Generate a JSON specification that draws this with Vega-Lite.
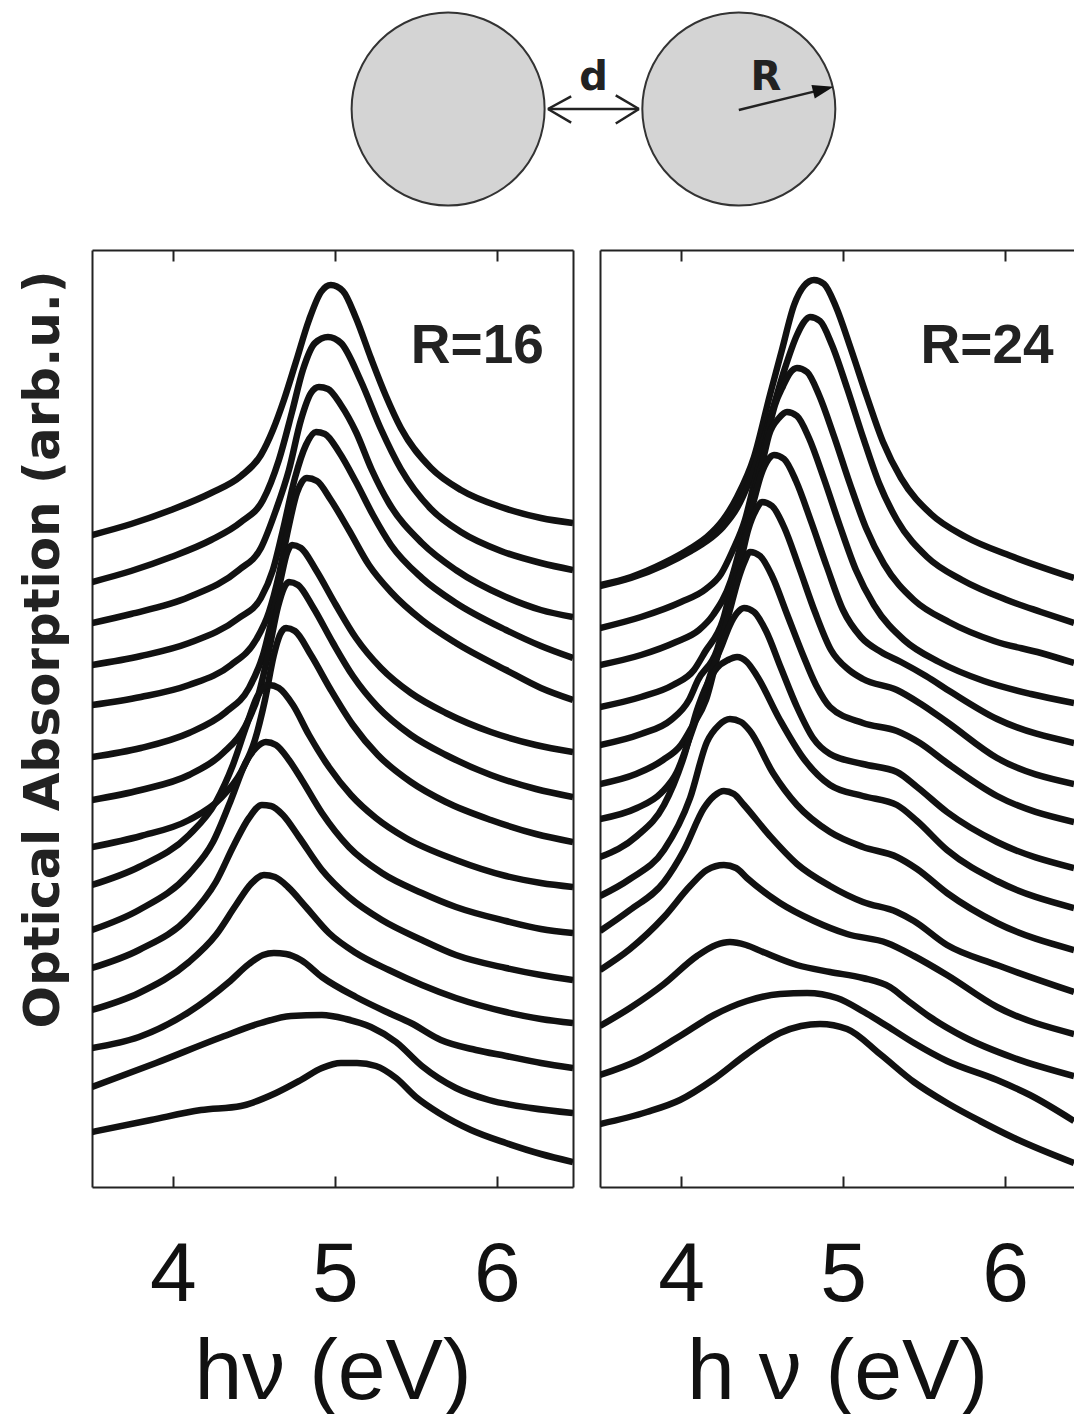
{
"$schema": "https://vega.github.io/schema/vega-lite/v6.json",
"background": "white",
"padding": {"left": 17, "top": 0, "right": 0, "bottom": 0},
"config": {"view": {"stroke": null}, "axis": {"grid": false}},
"datasets": {
"circles": [{"x": -1.5, "y": 0}, {"x": 1.5, "y": 0}],
"segs": [
{"x": -0.47, "y": 0, "x2": 0.47, "y2": 0},
{"x": -0.47, "y": 0, "x2": -0.23, "y2": 0.13},
{"x": -0.47, "y": 0, "x2": -0.23, "y2": -0.14},
{"x": 0.47, "y": 0, "x2": 0.23, "y2": 0.14},
{"x": 0.47, "y": 0, "x2": 0.23, "y2": -0.15},
{"x": 1.5, "y": -0.01, "x2": 2.38, "y2": 0.205}
],
"heads": [{"x": 2.477, "y": 0.23}],
"dtext": [{"x": 0, "y": 0.196, "t": "d"}, {"x": 1.78, "y": 0.196, "t": "R"}],
"labels": [{"p": 1, "x": 6.29, "y": 82.4, "t": "R=16"}, {"p": 2, "x": 6.30, "y": 82.4, "t": "R=24"}],
"curves": [
{"p":1,"c":1,"x":3.5,"y":65.2},{"p":1,"c":1,"x":3.741,"y":66.3},{"p":1,"c":1,"x":3.988,"y":67.7},{"p":1,"c":1,"x":4.235,"y":69.4},{"p":1,"c":1,"x":4.42,"y":71.1},{"p":1,"c":1,"x":4.543,"y":73.2},{"p":1,"c":1,"x":4.617,"y":75.7},{"p":1,"c":1,"x":4.685,"y":78.7},{"p":1,"c":1,"x":4.759,"y":82.5},{"p":1,"c":1,"x":4.84,"y":86.7},{"p":1,"c":1,"x":4.914,"y":89.5},{"p":1,"c":1,"x":4.975,"y":90.2},{"p":1,"c":1,"x":5.049,"y":89.6},{"p":1,"c":1,"x":5.13,"y":86.9},{"p":1,"c":1,"x":5.222,"y":82.9},{"p":1,"c":1,"x":5.315,"y":79.1},{"p":1,"c":1,"x":5.407,"y":75.9},{"p":1,"c":1,"x":5.593,"y":71.9},{"p":1,"c":1,"x":5.778,"y":69.7},{"p":1,"c":1,"x":6.025,"y":68.0},{"p":1,"c":1,"x":6.272,"y":66.9},{"p":1,"c":1,"x":6.47,"y":66.4},
{"p":1,"c":2,"x":3.5,"y":60.5},{"p":1,"c":2,"x":3.741,"y":61.6},{"p":1,"c":2,"x":3.988,"y":63.0},{"p":1,"c":2,"x":4.235,"y":64.7},{"p":1,"c":2,"x":4.42,"y":66.5},{"p":1,"c":2,"x":4.556,"y":68.7},{"p":1,"c":2,"x":4.654,"y":72.7},{"p":1,"c":2,"x":4.735,"y":77.5},{"p":1,"c":2,"x":4.802,"y":81.7},{"p":1,"c":2,"x":4.877,"y":84.4},{"p":1,"c":2,"x":4.957,"y":85.0},{"p":1,"c":2,"x":5.037,"y":84.4},{"p":1,"c":2,"x":5.16,"y":80.6},{"p":1,"c":2,"x":5.284,"y":75.8},{"p":1,"c":2,"x":5.407,"y":71.8},{"p":1,"c":2,"x":5.593,"y":67.8},{"p":1,"c":2,"x":5.778,"y":65.5},{"p":1,"c":2,"x":6.025,"y":63.6},{"p":1,"c":2,"x":6.272,"y":62.4},{"p":1,"c":2,"x":6.47,"y":61.7},
{"p":1,"c":3,"x":3.5,"y":56.4},{"p":1,"c":3,"x":3.741,"y":57.3},{"p":1,"c":3,"x":4.099,"y":59.0},{"p":1,"c":3,"x":4.407,"y":61.7},{"p":1,"c":3,"x":4.543,"y":63.9},{"p":1,"c":3,"x":4.636,"y":67.7},{"p":1,"c":3,"x":4.716,"y":71.7},{"p":1,"c":3,"x":4.79,"y":76.7},{"p":1,"c":3,"x":4.852,"y":79.4},{"p":1,"c":3,"x":4.901,"y":80.0},{"p":1,"c":3,"x":4.957,"y":79.8},{"p":1,"c":3,"x":5.037,"y":78.2},{"p":1,"c":3,"x":5.13,"y":75.5},{"p":1,"c":3,"x":5.228,"y":71.7},{"p":1,"c":3,"x":5.333,"y":68.4},{"p":1,"c":3,"x":5.537,"y":64.4},{"p":1,"c":3,"x":5.747,"y":61.7},{"p":1,"c":3,"x":6.056,"y":59.0},{"p":1,"c":3,"x":6.272,"y":57.7},{"p":1,"c":3,"x":6.47,"y":57.0},
{"p":1,"c":4,"x":3.5,"y":52.2},{"p":1,"c":4,"x":3.802,"y":53.1},{"p":1,"c":4,"x":4.099,"y":54.4},{"p":1,"c":4,"x":4.407,"y":56.9},{"p":1,"c":4,"x":4.543,"y":58.9},{"p":1,"c":4,"x":4.617,"y":61.7},{"p":1,"c":4,"x":4.679,"y":65.7},{"p":1,"c":4,"x":4.753,"y":70.9},{"p":1,"c":4,"x":4.821,"y":74.2},{"p":1,"c":4,"x":4.883,"y":75.5},{"p":1,"c":4,"x":4.938,"y":75.3},{"p":1,"c":4,"x":5.025,"y":73.5},{"p":1,"c":4,"x":5.13,"y":70.5},{"p":1,"c":4,"x":5.235,"y":67.2},{"p":1,"c":4,"x":5.346,"y":64.2},{"p":1,"c":4,"x":5.537,"y":60.9},{"p":1,"c":4,"x":5.747,"y":58.4},{"p":1,"c":4,"x":6.056,"y":55.7},{"p":1,"c":4,"x":6.272,"y":54.1},{"p":1,"c":4,"x":6.47,"y":52.9},
{"p":1,"c":5,"x":3.5,"y":48.2},{"p":1,"c":5,"x":3.802,"y":49.0},{"p":1,"c":5,"x":4.099,"y":50.2},{"p":1,"c":5,"x":4.358,"y":52.2},{"p":1,"c":5,"x":4.512,"y":54.7},{"p":1,"c":5,"x":4.593,"y":57.5},{"p":1,"c":5,"x":4.654,"y":61.2},{"p":1,"c":5,"x":4.71,"y":65.7},{"p":1,"c":5,"x":4.765,"y":69.4},{"p":1,"c":5,"x":4.827,"y":70.9},{"p":1,"c":5,"x":4.889,"y":70.6},{"p":1,"c":5,"x":4.975,"y":68.7},{"p":1,"c":5,"x":5.086,"y":65.7},{"p":1,"c":5,"x":5.21,"y":62.2},{"p":1,"c":5,"x":5.346,"y":59.5},{"p":1,"c":5,"x":5.537,"y":56.7},{"p":1,"c":5,"x":5.747,"y":54.4},{"p":1,"c":5,"x":6.056,"y":51.7},{"p":1,"c":5,"x":6.272,"y":49.9},{"p":1,"c":5,"x":6.47,"y":48.7},
{"p":1,"c":6,"x":3.5,"y":43.0},{"p":1,"c":6,"x":3.802,"y":43.9},{"p":1,"c":6,"x":4.099,"y":45.4},{"p":1,"c":6,"x":4.327,"y":47.5},{"p":1,"c":6,"x":4.469,"y":49.9},{"p":1,"c":6,"x":4.556,"y":53.2},{"p":1,"c":6,"x":4.617,"y":57.2},{"p":1,"c":6,"x":4.667,"y":60.9},{"p":1,"c":6,"x":4.704,"y":63.4},{"p":1,"c":6,"x":4.735,"y":64.2},{"p":1,"c":6,"x":4.79,"y":63.9},{"p":1,"c":6,"x":4.883,"y":61.7},{"p":1,"c":6,"x":5.006,"y":58.2},{"p":1,"c":6,"x":5.13,"y":54.9},{"p":1,"c":6,"x":5.284,"y":51.9},{"p":1,"c":6,"x":5.469,"y":49.4},{"p":1,"c":6,"x":5.685,"y":47.4},{"p":1,"c":6,"x":5.963,"y":45.5},{"p":1,"c":6,"x":6.241,"y":44.2},{"p":1,"c":6,"x":6.47,"y":43.5},
{"p":1,"c":7,"x":3.5,"y":38.7},{"p":1,"c":7,"x":3.802,"y":39.7},{"p":1,"c":7,"x":4.099,"y":41.2},{"p":1,"c":7,"x":4.309,"y":43.4},{"p":1,"c":7,"x":4.444,"y":46.0},{"p":1,"c":7,"x":4.531,"y":49.4},{"p":1,"c":7,"x":4.593,"y":53.7},{"p":1,"c":7,"x":4.648,"y":58.0},{"p":1,"c":7,"x":4.685,"y":59.9},{"p":1,"c":7,"x":4.716,"y":60.5},{"p":1,"c":7,"x":4.772,"y":60.2},{"p":1,"c":7,"x":4.864,"y":58.0},{"p":1,"c":7,"x":4.988,"y":54.4},{"p":1,"c":7,"x":5.111,"y":51.1},{"p":1,"c":7,"x":5.265,"y":48.0},{"p":1,"c":7,"x":5.469,"y":45.2},{"p":1,"c":7,"x":5.685,"y":43.2},{"p":1,"c":7,"x":5.963,"y":41.2},{"p":1,"c":7,"x":6.241,"y":39.8},{"p":1,"c":7,"x":6.47,"y":39.0},
{"p":1,"c":8,"x":3.5,"y":34.0},{"p":1,"c":8,"x":3.802,"y":35.1},{"p":1,"c":8,"x":4.099,"y":36.7},{"p":1,"c":8,"x":4.296,"y":38.9},{"p":1,"c":8,"x":4.42,"y":41.5},{"p":1,"c":8,"x":4.506,"y":44.7},{"p":1,"c":8,"x":4.568,"y":48.7},{"p":1,"c":8,"x":4.623,"y":53.2},{"p":1,"c":8,"x":4.66,"y":55.2},{"p":1,"c":8,"x":4.698,"y":55.9},{"p":1,"c":8,"x":4.753,"y":55.6},{"p":1,"c":8,"x":4.852,"y":53.2},{"p":1,"c":8,"x":4.975,"y":49.7},{"p":1,"c":8,"x":5.111,"y":46.2},{"p":1,"c":8,"x":5.265,"y":43.2},{"p":1,"c":8,"x":5.469,"y":40.5},{"p":1,"c":8,"x":5.685,"y":38.5},{"p":1,"c":8,"x":5.963,"y":36.7},{"p":1,"c":8,"x":6.241,"y":35.3},{"p":1,"c":8,"x":6.47,"y":34.5},
{"p":1,"c":9,"x":3.5,"y":30.2},{"p":1,"c":9,"x":3.79,"y":32.0},{"p":1,"c":9,"x":4.099,"y":35.2},{"p":1,"c":9,"x":4.265,"y":38.5},{"p":1,"c":9,"x":4.37,"y":42.2},{"p":1,"c":9,"x":4.451,"y":46.0},{"p":1,"c":9,"x":4.519,"y":49.0},{"p":1,"c":9,"x":4.593,"y":50.2},{"p":1,"c":9,"x":4.654,"y":49.9},{"p":1,"c":9,"x":4.741,"y":48.2},{"p":1,"c":9,"x":4.84,"y":45.2},{"p":1,"c":9,"x":4.963,"y":42.0},{"p":1,"c":9,"x":5.099,"y":39.2},{"p":1,"c":9,"x":5.253,"y":36.9},{"p":1,"c":9,"x":5.438,"y":34.9},{"p":1,"c":9,"x":5.747,"y":32.7},{"p":1,"c":9,"x":6.056,"y":31.1},{"p":1,"c":9,"x":6.272,"y":30.4},{"p":1,"c":9,"x":6.47,"y":30.0},
{"p":1,"c":10,"x":3.5,"y":25.7},{"p":1,"c":10,"x":3.79,"y":27.7},{"p":1,"c":10,"x":4.099,"y":31.3},{"p":1,"c":10,"x":4.247,"y":34.5},{"p":1,"c":10,"x":4.358,"y":38.7},{"p":1,"c":10,"x":4.451,"y":42.5},{"p":1,"c":10,"x":4.512,"y":43.9},{"p":1,"c":10,"x":4.574,"y":44.5},{"p":1,"c":10,"x":4.636,"y":44.2},{"p":1,"c":10,"x":4.716,"y":42.7},{"p":1,"c":10,"x":4.796,"y":40.7},{"p":1,"c":10,"x":4.92,"y":37.4},{"p":1,"c":10,"x":5.086,"y":34.0},{"p":1,"c":10,"x":5.29,"y":31.4},{"p":1,"c":10,"x":5.537,"y":29.4},{"p":1,"c":10,"x":5.747,"y":28.0},{"p":1,"c":10,"x":6.056,"y":26.6},{"p":1,"c":10,"x":6.272,"y":25.8},{"p":1,"c":10,"x":6.47,"y":25.4},
{"p":1,"c":11,"x":3.5,"y":21.9},{"p":1,"c":11,"x":3.79,"y":23.7},{"p":1,"c":11,"x":4.099,"y":27.0},{"p":1,"c":11,"x":4.265,"y":30.5},{"p":1,"c":11,"x":4.377,"y":34.2},{"p":1,"c":11,"x":4.469,"y":36.9},{"p":1,"c":11,"x":4.549,"y":38.2},{"p":1,"c":11,"x":4.605,"y":38.1},{"p":1,"c":11,"x":4.679,"y":37.2},{"p":1,"c":11,"x":4.778,"y":35.0},{"p":1,"c":11,"x":4.92,"y":31.7},{"p":1,"c":11,"x":5.086,"y":29.0},{"p":1,"c":11,"x":5.29,"y":26.7},{"p":1,"c":11,"x":5.537,"y":24.7},{"p":1,"c":11,"x":5.747,"y":23.2},{"p":1,"c":11,"x":6.056,"y":21.9},{"p":1,"c":11,"x":6.272,"y":21.2},{"p":1,"c":11,"x":6.47,"y":20.7},
{"p":1,"c":12,"x":3.5,"y":17.7},{"p":1,"c":12,"x":3.79,"y":19.4},{"p":1,"c":12,"x":4.099,"y":22.5},{"p":1,"c":12,"x":4.265,"y":25.2},{"p":1,"c":12,"x":4.389,"y":28.2},{"p":1,"c":12,"x":4.481,"y":30.3},{"p":1,"c":12,"x":4.562,"y":31.2},{"p":1,"c":12,"x":4.63,"y":31.0},{"p":1,"c":12,"x":4.71,"y":30.0},{"p":1,"c":12,"x":4.821,"y":28.0},{"p":1,"c":12,"x":4.963,"y":25.4},{"p":1,"c":12,"x":5.13,"y":23.4},{"p":1,"c":12,"x":5.333,"y":21.7},{"p":1,"c":12,"x":5.537,"y":20.2},{"p":1,"c":12,"x":5.747,"y":18.9},{"p":1,"c":12,"x":6.056,"y":17.5},{"p":1,"c":12,"x":6.272,"y":16.8},{"p":1,"c":12,"x":6.47,"y":16.4},
{"p":1,"c":13,"x":3.5,"y":13.9},{"p":1,"c":13,"x":3.79,"y":15.0},{"p":1,"c":13,"x":4.099,"y":17.5},{"p":1,"c":13,"x":4.346,"y":20.5},{"p":1,"c":13,"x":4.469,"y":22.3},{"p":1,"c":13,"x":4.556,"y":23.2},{"p":1,"c":13,"x":4.623,"y":23.4},{"p":1,"c":13,"x":4.698,"y":23.3},{"p":1,"c":13,"x":4.79,"y":22.7},{"p":1,"c":13,"x":4.92,"y":21.0},{"p":1,"c":13,"x":5.13,"y":19.0},{"p":1,"c":13,"x":5.333,"y":17.4},{"p":1,"c":13,"x":5.469,"y":16.4},{"p":1,"c":13,"x":5.654,"y":14.7},{"p":1,"c":13,"x":5.87,"y":13.7},{"p":1,"c":13,"x":6.056,"y":13.1},{"p":1,"c":13,"x":6.272,"y":12.4},{"p":1,"c":13,"x":6.47,"y":11.9},
{"p":1,"c":14,"x":3.5,"y":10.0},{"p":1,"c":14,"x":3.895,"y":12.4},{"p":1,"c":14,"x":4.302,"y":15.0},{"p":1,"c":14,"x":4.543,"y":16.4},{"p":1,"c":14,"x":4.728,"y":17.1},{"p":1,"c":14,"x":4.92,"y":17.2},{"p":1,"c":14,"x":5.068,"y":16.8},{"p":1,"c":14,"x":5.222,"y":16.0},{"p":1,"c":14,"x":5.377,"y":14.5},{"p":1,"c":14,"x":5.537,"y":12.1},{"p":1,"c":14,"x":5.747,"y":9.9},{"p":1,"c":14,"x":5.951,"y":8.7},{"p":1,"c":14,"x":6.21,"y":7.9},{"p":1,"c":14,"x":6.47,"y":7.4},
{"p":1,"c":15,"x":3.5,"y":5.5},{"p":1,"c":15,"x":3.864,"y":6.7},{"p":1,"c":15,"x":4.173,"y":7.7},{"p":1,"c":15,"x":4.42,"y":8.1},{"p":1,"c":15,"x":4.636,"y":9.4},{"p":1,"c":15,"x":4.79,"y":10.7},{"p":1,"c":15,"x":4.92,"y":11.9},{"p":1,"c":15,"x":5.037,"y":12.4},{"p":1,"c":15,"x":5.136,"y":12.4},{"p":1,"c":15,"x":5.253,"y":12.1},{"p":1,"c":15,"x":5.377,"y":10.9},{"p":1,"c":15,"x":5.5,"y":9.0},{"p":1,"c":15,"x":5.642,"y":7.4},{"p":1,"c":15,"x":5.84,"y":5.7},{"p":1,"c":15,"x":6.056,"y":4.4},{"p":1,"c":15,"x":6.272,"y":3.3},{"p":1,"c":15,"x":6.47,"y":2.5},
{"p":2,"c":1,"x":3.5,"y":60.2},{"p":2,"c":1,"x":3.691,"y":61.0},{"p":2,"c":1,"x":3.895,"y":62.4},{"p":2,"c":1,"x":4.062,"y":63.9},{"p":2,"c":1,"x":4.16,"y":65.0},{"p":2,"c":1,"x":4.259,"y":66.7},{"p":2,"c":1,"x":4.346,"y":69.0},{"p":2,"c":1,"x":4.451,"y":73.0},{"p":2,"c":1,"x":4.549,"y":79.2},{"p":2,"c":1,"x":4.623,"y":83.7},{"p":2,"c":1,"x":4.698,"y":88.2},{"p":2,"c":1,"x":4.759,"y":90.1},{"p":2,"c":1,"x":4.821,"y":90.7},{"p":2,"c":1,"x":4.883,"y":90.3},{"p":2,"c":1,"x":4.957,"y":88.0},{"p":2,"c":1,"x":5.049,"y":83.8},{"p":2,"c":1,"x":5.148,"y":79.0},{"p":2,"c":1,"x":5.247,"y":74.5},{"p":2,"c":1,"x":5.358,"y":70.9},{"p":2,"c":1,"x":5.543,"y":67.3},{"p":2,"c":1,"x":5.759,"y":65.0},{"p":2,"c":1,"x":6.037,"y":63.1},{"p":2,"c":1,"x":6.426,"y":60.9},
{"p":2,"c":2,"x":3.5,"y":60.1},{"p":2,"c":2,"x":3.691,"y":60.9},{"p":2,"c":2,"x":3.895,"y":62.2},{"p":2,"c":2,"x":4.062,"y":63.6},{"p":2,"c":2,"x":4.16,"y":64.6},{"p":2,"c":2,"x":4.259,"y":66.0},{"p":2,"c":2,"x":4.346,"y":67.9},{"p":2,"c":2,"x":4.42,"y":70.5},{"p":2,"c":2,"x":4.494,"y":73.9},{"p":2,"c":2,"x":4.568,"y":77.9},{"p":2,"c":2,"x":4.642,"y":81.9},{"p":2,"c":2,"x":4.716,"y":85.2},{"p":2,"c":2,"x":4.759,"y":86.5},{"p":2,"c":2,"x":4.796,"y":87.0},{"p":2,"c":2,"x":4.858,"y":86.6},{"p":2,"c":2,"x":4.932,"y":84.2},{"p":2,"c":2,"x":5.025,"y":79.9},{"p":2,"c":2,"x":5.123,"y":75.0},{"p":2,"c":2,"x":5.222,"y":70.4},{"p":2,"c":2,"x":5.333,"y":66.7},{"p":2,"c":2,"x":5.519,"y":63.0},{"p":2,"c":2,"x":5.735,"y":60.7},{"p":2,"c":2,"x":6.012,"y":58.7},{"p":2,"c":2,"x":6.222,"y":57.5},{"p":2,"c":2,"x":6.426,"y":56.4},
{"p":2,"c":3,"x":3.5,"y":55.9},{"p":2,"c":3,"x":3.753,"y":57.0},{"p":2,"c":3,"x":4.0,"y":58.5},{"p":2,"c":3,"x":4.154,"y":59.8},{"p":2,"c":3,"x":4.247,"y":61.3},{"p":2,"c":3,"x":4.315,"y":63.5},{"p":2,"c":3,"x":4.395,"y":66.7},{"p":2,"c":3,"x":4.457,"y":70.7},{"p":2,"c":3,"x":4.525,"y":74.7},{"p":2,"c":3,"x":4.58,"y":78.2},{"p":2,"c":3,"x":4.63,"y":80.1},{"p":2,"c":3,"x":4.673,"y":81.4},{"p":2,"c":3,"x":4.716,"y":81.9},{"p":2,"c":3,"x":4.778,"y":81.5},{"p":2,"c":3,"x":4.852,"y":79.2},{"p":2,"c":3,"x":4.944,"y":75.1},{"p":2,"c":3,"x":5.043,"y":70.3},{"p":2,"c":3,"x":5.142,"y":65.9},{"p":2,"c":3,"x":5.253,"y":62.3},{"p":2,"c":3,"x":5.438,"y":58.7},{"p":2,"c":3,"x":5.654,"y":56.5},{"p":2,"c":3,"x":5.932,"y":54.6},{"p":2,"c":3,"x":6.222,"y":53.4},{"p":2,"c":3,"x":6.426,"y":52.4},
{"p":2,"c":4,"x":3.5,"y":52.2},{"p":2,"c":4,"x":3.753,"y":53.2},{"p":2,"c":4,"x":3.969,"y":54.5},{"p":2,"c":4,"x":4.111,"y":55.7},{"p":2,"c":4,"x":4.198,"y":57.2},{"p":2,"c":4,"x":4.309,"y":60.7},{"p":2,"c":4,"x":4.377,"y":64.7},{"p":2,"c":4,"x":4.438,"y":68.7},{"p":2,"c":4,"x":4.506,"y":72.7},{"p":2,"c":4,"x":4.543,"y":75.2},{"p":2,"c":4,"x":4.605,"y":76.9},{"p":2,"c":4,"x":4.654,"y":77.5},{"p":2,"c":4,"x":4.716,"y":77.1},{"p":2,"c":4,"x":4.79,"y":74.9},{"p":2,"c":4,"x":4.883,"y":70.8},{"p":2,"c":4,"x":4.981,"y":66.1},{"p":2,"c":4,"x":5.08,"y":61.7},{"p":2,"c":4,"x":5.191,"y":58.2},{"p":2,"c":4,"x":5.377,"y":54.7},{"p":2,"c":4,"x":5.593,"y":52.5},{"p":2,"c":4,"x":5.87,"y":50.6},{"p":2,"c":4,"x":6.16,"y":49.3},{"p":2,"c":4,"x":6.426,"y":48.4},
{"p":2,"c":5,"x":3.5,"y":48.0},{"p":2,"c":5,"x":3.753,"y":49.0},{"p":2,"c":5,"x":3.951,"y":50.2},{"p":2,"c":5,"x":4.08,"y":51.7},{"p":2,"c":5,"x":4.148,"y":53.5},{"p":2,"c":5,"x":4.259,"y":56.7},{"p":2,"c":5,"x":4.321,"y":60.7},{"p":2,"c":5,"x":4.389,"y":64.7},{"p":2,"c":5,"x":4.451,"y":68.7},{"p":2,"c":5,"x":4.494,"y":71.2},{"p":2,"c":5,"x":4.537,"y":72.7},{"p":2,"c":5,"x":4.574,"y":73.2},{"p":2,"c":5,"x":4.636,"y":72.8},{"p":2,"c":5,"x":4.71,"y":70.6},{"p":2,"c":5,"x":4.802,"y":66.6},{"p":2,"c":5,"x":4.901,"y":62.0},{"p":2,"c":5,"x":5.0,"y":57.7},{"p":2,"c":5,"x":5.111,"y":55.0},{"p":2,"c":5,"x":5.235,"y":53.5},{"p":2,"c":5,"x":5.358,"y":52.5},{"p":2,"c":5,"x":5.512,"y":51.1},{"p":2,"c":5,"x":5.667,"y":49.5},{"p":2,"c":5,"x":5.951,"y":46.8},{"p":2,"c":5,"x":6.426,"y":44.4},
{"p":2,"c":6,"x":3.5,"y":44.2},{"p":2,"c":6,"x":3.753,"y":45.3},{"p":2,"c":6,"x":3.938,"y":46.7},{"p":2,"c":6,"x":4.049,"y":48.7},{"p":2,"c":6,"x":4.105,"y":50.7},{"p":2,"c":6,"x":4.222,"y":53.7},{"p":2,"c":6,"x":4.302,"y":58.7},{"p":2,"c":6,"x":4.37,"y":62.7},{"p":2,"c":6,"x":4.414,"y":65.7},{"p":2,"c":6,"x":4.463,"y":67.7},{"p":2,"c":6,"x":4.5,"y":68.5},{"p":2,"c":6,"x":4.562,"y":68.1},{"p":2,"c":6,"x":4.636,"y":66.0},{"p":2,"c":6,"x":4.728,"y":62.0},{"p":2,"c":6,"x":4.827,"y":57.5},{"p":2,"c":6,"x":4.926,"y":53.7},{"p":2,"c":6,"x":5.037,"y":51.7},{"p":2,"c":6,"x":5.123,"y":50.8},{"p":2,"c":6,"x":5.333,"y":49.7},{"p":2,"c":6,"x":5.481,"y":48.3},{"p":2,"c":6,"x":5.642,"y":46.5},{"p":2,"c":6,"x":5.951,"y":42.9},{"p":2,"c":6,"x":6.426,"y":40.3},
{"p":2,"c":7,"x":3.5,"y":40.3},{"p":2,"c":7,"x":3.722,"y":41.3},{"p":2,"c":7,"x":3.889,"y":42.7},{"p":2,"c":7,"x":4.0,"y":44.2},{"p":2,"c":7,"x":4.074,"y":46.2},{"p":2,"c":7,"x":4.154,"y":48.7},{"p":2,"c":7,"x":4.235,"y":53.7},{"p":2,"c":7,"x":4.302,"y":57.7},{"p":2,"c":7,"x":4.352,"y":60.7},{"p":2,"c":7,"x":4.389,"y":62.4},{"p":2,"c":7,"x":4.426,"y":63.5},{"p":2,"c":7,"x":4.488,"y":63.1},{"p":2,"c":7,"x":4.562,"y":61.1},{"p":2,"c":7,"x":4.654,"y":57.3},{"p":2,"c":7,"x":4.753,"y":53.2},{"p":2,"c":7,"x":4.833,"y":50.2},{"p":2,"c":7,"x":4.92,"y":48.0},{"p":2,"c":7,"x":5.123,"y":46.4},{"p":2,"c":7,"x":5.333,"y":45.6},{"p":2,"c":7,"x":5.475,"y":44.4},{"p":2,"c":7,"x":5.642,"y":42.4},{"p":2,"c":7,"x":5.951,"y":39.1},{"p":2,"c":7,"x":6.426,"y":36.5},
{"p":2,"c":8,"x":3.5,"y":36.8},{"p":2,"c":8,"x":3.728,"y":37.9},{"p":2,"c":8,"x":3.877,"y":39.4},{"p":2,"c":8,"x":3.975,"y":41.5},{"p":2,"c":8,"x":4.049,"y":44.7},{"p":2,"c":8,"x":4.123,"y":48.2},{"p":2,"c":8,"x":4.191,"y":51.7},{"p":2,"c":8,"x":4.253,"y":54.2},{"p":2,"c":8,"x":4.302,"y":56.2},{"p":2,"c":8,"x":4.346,"y":57.4},{"p":2,"c":8,"x":4.389,"y":57.9},{"p":2,"c":8,"x":4.451,"y":57.5},{"p":2,"c":8,"x":4.525,"y":55.6},{"p":2,"c":8,"x":4.617,"y":51.9},{"p":2,"c":8,"x":4.716,"y":48.0},{"p":2,"c":8,"x":4.815,"y":44.9},{"p":2,"c":8,"x":4.92,"y":43.3},{"p":2,"c":8,"x":5.123,"y":42.3},{"p":2,"c":8,"x":5.333,"y":41.5},{"p":2,"c":8,"x":5.457,"y":40.0},{"p":2,"c":8,"x":5.642,"y":37.5},{"p":2,"c":8,"x":5.951,"y":34.5},{"p":2,"c":8,"x":6.426,"y":31.9},
{"p":2,"c":9,"x":3.5,"y":33.0},{"p":2,"c":9,"x":3.728,"y":35.1},{"p":2,"c":9,"x":3.895,"y":38.2},{"p":2,"c":9,"x":4.019,"y":43.1},{"p":2,"c":9,"x":4.099,"y":47.7},{"p":2,"c":9,"x":4.222,"y":51.9},{"p":2,"c":9,"x":4.29,"y":52.7},{"p":2,"c":9,"x":4.346,"y":53.0},{"p":2,"c":9,"x":4.407,"y":52.5},{"p":2,"c":9,"x":4.469,"y":51.1},{"p":2,"c":9,"x":4.611,"y":46.7},{"p":2,"c":9,"x":4.759,"y":42.8},{"p":2,"c":9,"x":4.92,"y":40.2},{"p":2,"c":9,"x":5.123,"y":39.1},{"p":2,"c":9,"x":5.333,"y":38.2},{"p":2,"c":9,"x":5.457,"y":36.6},{"p":2,"c":9,"x":5.642,"y":33.7},{"p":2,"c":9,"x":5.951,"y":30.6},{"p":2,"c":9,"x":6.426,"y":27.9},
{"p":2,"c":10,"x":3.5,"y":29.1},{"p":2,"c":10,"x":3.685,"y":30.8},{"p":2,"c":10,"x":3.895,"y":33.7},{"p":2,"c":10,"x":4.056,"y":38.9},{"p":2,"c":10,"x":4.16,"y":44.5},{"p":2,"c":10,"x":4.235,"y":46.2},{"p":2,"c":10,"x":4.302,"y":46.8},{"p":2,"c":10,"x":4.37,"y":46.5},{"p":2,"c":10,"x":4.426,"y":45.6},{"p":2,"c":10,"x":4.568,"y":41.4},{"p":2,"c":10,"x":4.716,"y":38.2},{"p":2,"c":10,"x":4.92,"y":35.5},{"p":2,"c":10,"x":5.123,"y":34.0},{"p":2,"c":10,"x":5.333,"y":33.0},{"p":2,"c":10,"x":5.457,"y":31.8},{"p":2,"c":10,"x":5.642,"y":29.4},{"p":2,"c":10,"x":5.951,"y":26.4},{"p":2,"c":10,"x":6.426,"y":23.7},
{"p":2,"c":11,"x":3.5,"y":25.6},{"p":2,"c":11,"x":3.685,"y":27.7},{"p":2,"c":11,"x":3.895,"y":30.5},{"p":2,"c":11,"x":4.019,"y":33.7},{"p":2,"c":11,"x":4.142,"y":37.9},{"p":2,"c":11,"x":4.204,"y":39.1},{"p":2,"c":11,"x":4.265,"y":39.6},{"p":2,"c":11,"x":4.327,"y":39.3},{"p":2,"c":11,"x":4.389,"y":38.2},{"p":2,"c":11,"x":4.549,"y":35.1},{"p":2,"c":11,"x":4.716,"y":32.3},{"p":2,"c":11,"x":4.92,"y":30.1},{"p":2,"c":11,"x":5.123,"y":28.5},{"p":2,"c":11,"x":5.333,"y":27.5},{"p":2,"c":11,"x":5.438,"y":26.6},{"p":2,"c":11,"x":5.642,"y":24.2},{"p":2,"c":11,"x":5.951,"y":22.2},{"p":2,"c":11,"x":6.426,"y":19.5},
{"p":2,"c":12,"x":3.5,"y":21.7},{"p":2,"c":12,"x":3.685,"y":23.8},{"p":2,"c":12,"x":3.895,"y":27.0},{"p":2,"c":12,"x":4.056,"y":30.1},{"p":2,"c":12,"x":4.16,"y":31.7},{"p":2,"c":12,"x":4.265,"y":32.2},{"p":2,"c":12,"x":4.34,"y":31.9},{"p":2,"c":12,"x":4.407,"y":30.9},{"p":2,"c":12,"x":4.611,"y":28.4},{"p":2,"c":12,"x":4.821,"y":26.6},{"p":2,"c":12,"x":5.025,"y":25.3},{"p":2,"c":12,"x":5.272,"y":24.4},{"p":2,"c":12,"x":5.438,"y":23.1},{"p":2,"c":12,"x":5.642,"y":21.2},{"p":2,"c":12,"x":5.951,"y":18.0},{"p":2,"c":12,"x":6.426,"y":15.3},
{"p":2,"c":13,"x":3.5,"y":16.1},{"p":2,"c":13,"x":3.685,"y":17.9},{"p":2,"c":13,"x":3.895,"y":20.3},{"p":2,"c":13,"x":4.099,"y":23.1},{"p":2,"c":13,"x":4.216,"y":24.2},{"p":2,"c":13,"x":4.302,"y":24.5},{"p":2,"c":13,"x":4.401,"y":24.2},{"p":2,"c":13,"x":4.506,"y":23.5},{"p":2,"c":13,"x":4.716,"y":22.2},{"p":2,"c":13,"x":4.92,"y":21.5},{"p":2,"c":13,"x":5.123,"y":20.9},{"p":2,"c":13,"x":5.29,"y":20.0},{"p":2,"c":13,"x":5.395,"y":18.7},{"p":2,"c":13,"x":5.537,"y":17.0},{"p":2,"c":13,"x":5.747,"y":15.0},{"p":2,"c":13,"x":6.056,"y":12.9},{"p":2,"c":13,"x":6.426,"y":11.1},
{"p":2,"c":14,"x":3.5,"y":11.2},{"p":2,"c":14,"x":3.728,"y":12.6},{"p":2,"c":14,"x":3.994,"y":15.1},{"p":2,"c":14,"x":4.204,"y":17.2},{"p":2,"c":14,"x":4.407,"y":18.6},{"p":2,"c":14,"x":4.611,"y":19.3},{"p":2,"c":14,"x":4.778,"y":19.4},{"p":2,"c":14,"x":4.963,"y":18.9},{"p":2,"c":14,"x":5.13,"y":17.5},{"p":2,"c":14,"x":5.272,"y":16.1},{"p":2,"c":14,"x":5.438,"y":14.4},{"p":2,"c":14,"x":5.642,"y":12.6},{"p":2,"c":14,"x":5.951,"y":10.7},{"p":2,"c":14,"x":6.154,"y":9.2},{"p":2,"c":14,"x":6.426,"y":6.6},
{"p":2,"c":15,"x":3.5,"y":6.3},{"p":2,"c":15,"x":3.79,"y":7.5},{"p":2,"c":15,"x":3.994,"y":8.7},{"p":2,"c":15,"x":4.204,"y":10.8},{"p":2,"c":15,"x":4.407,"y":13.3},{"p":2,"c":15,"x":4.611,"y":15.4},{"p":2,"c":15,"x":4.741,"y":16.1},{"p":2,"c":15,"x":4.858,"y":16.3},{"p":2,"c":15,"x":5.025,"y":15.8},{"p":2,"c":15,"x":5.228,"y":13.3},{"p":2,"c":15,"x":5.438,"y":10.5},{"p":2,"c":15,"x":5.642,"y":8.4},{"p":2,"c":15,"x":5.846,"y":6.6},{"p":2,"c":15,"x":6.056,"y":4.9},{"p":2,"c":15,"x":6.426,"y":2.4}
]
},
"vconcat": [
{
"width": 982, "height": 209,
"encoding": {
"x": {"field": "x", "type": "quantitative", "scale": {"domain": [-5.175, 4.959], "nice": false, "zero": false}, "axis": null},
"y": {"field": "y", "type": "quantitative", "scale": {"domain": [-1.031, 1.124], "nice": false, "zero": false}, "axis": null}
},
"layer": [
{"data": {"name": "circles"}, "mark": {"type": "point", "shape": "circle", "size": 37249, "filled": true, "fill": "#d4d4d4", "stroke": "#333333", "strokeWidth": 2, "opacity": 1}},
{"data": {"name": "segs"}, "mark": {"type": "rule", "stroke": "#222222", "strokeWidth": 2.5}, "encoding": {"x2": {"field": "x2"}, "y2": {"field": "y2"}}},
{"data": {"name": "heads"}, "mark": {"type": "point", "shape": "M0,0L-1,-0.33L-1,0.33Z", "size": 1764, "filled": true, "color": "#111111", "opacity": 1, "angle": -13.8}},
{"data": {"name": "dtext"}, "mark": {"type": "text", "font": "DejaVu Sans", "fontWeight": "bold", "fontSize": 40, "baseline": "alphabetic", "align": "center", "color": "#222222"}, "encoding": {"text": {"field": "t"}}}
]
},
{
"hconcat": [
{
"width": 481, "height": 937,
"layer": [
{
"data": {"name": "curves"},
"transform": [{"filter": "datum.p == 1"}],
"mark": {"type": "line", "interpolate": "monotone", "strokeWidth": 6.5, "color": "#111111", "clip": true, "strokeJoin": "round"},
"encoding": {
"x": {"field": "x", "type": "quantitative", "scale": {"domain": [3.5, 6.47], "nice": false, "zero": false},
"axis": {"orient": "bottom", "values": [4, 5, 6], "title": "hν (eV)", "titleFont": "Liberation Sans", "titleFontSize": 86, "titleFontWeight": "normal", "titleColor": "#111111", "titleBaseline": "alphabetic", "titleY": 211, "labelFont": "Liberation Sans", "labelFontSize": 84, "labelColor": "#111111", "labelBaseline": "alphabetic", "labelPadding": 124, "labelFlush": false, "tickSize": -11, "tickWidth": 2, "tickColor": "#222222", "domainColor": "#222222", "domainWidth": 2}},
"y": {"field": "y", "type": "quantitative", "scale": {"domain": [0, 93.7], "nice": false, "zero": false},
"axis": {"orient": "left", "ticks": false, "labels": false, "domainColor": "#222222", "domainWidth": 2, "title": "Optical Absorption (arb.u.)", "titleFont": "DejaVu Sans", "titleFontSize": 50, "titleFontWeight": "bold", "titleColor": "#222222", "titleAngle": 270, "titleBaseline": "alphabetic", "titleAlign": "center", "titleX": -34, "titleY": 399}},
"detail": {"field": "c", "type": "nominal"}
}
},
{
"data": {"name": "labels"},
"transform": [{"filter": "datum.p == 1"}],
"mark": {"type": "text", "align": "right", "baseline": "alphabetic", "font": "Liberation Sans", "fontWeight": "bold", "fontSize": 55, "color": "#222222"},
"encoding": {
"x": {"field": "x", "type": "quantitative", "scale": {"domain": [3.5, 6.47], "nice": false, "zero": false},
"axis": {"orient": "top", "values": [4, 5, 6], "labels": false, "title": null, "tickSize": -11, "tickWidth": 2, "tickColor": "#222222", "domainColor": "#222222", "domainWidth": 2}},
"y": {"field": "y", "type": "quantitative", "scale": {"domain": [0, 93.7], "nice": false, "zero": false},
"axis": {"orient": "right", "ticks": false, "labels": false, "title": null, "domainColor": "#222222", "domainWidth": 2}},
"text": {"field": "t"}
}
}
],
"resolve": {"axis": {"x": "independent", "y": "independent"}}
},
{
"width": 474, "height": 937,
"layer": [
{
"data": {"name": "curves"},
"transform": [{"filter": "datum.p == 2"}],
"mark": {"type": "line", "interpolate": "monotone", "strokeWidth": 6.5, "color": "#111111", "clip": true, "strokeJoin": "round"},
"encoding": {
"x": {"field": "x", "type": "quantitative", "scale": {"domain": [3.5, 6.426], "nice": false, "zero": false},
"axis": {"orient": "bottom", "values": [4, 5, 6], "title": "h ν (eV)", "titleFont": "Liberation Sans", "titleFontSize": 86, "titleFontWeight": "normal", "titleColor": "#111111", "titleBaseline": "alphabetic", "titleY": 211, "labelFont": "Liberation Sans", "labelFontSize": 84, "labelColor": "#111111", "labelBaseline": "alphabetic", "labelPadding": 124, "labelFlush": false, "tickSize": -11, "tickWidth": 2, "tickColor": "#222222", "domainColor": "#222222", "domainWidth": 2}},
"y": {"field": "y", "type": "quantitative", "scale": {"domain": [0, 93.7], "nice": false, "zero": false},
"axis": {"orient": "left", "ticks": false, "labels": false, "title": null, "domainColor": "#222222", "domainWidth": 2}},
"detail": {"field": "c", "type": "nominal"}
}
},
{
"data": {"name": "labels"},
"transform": [{"filter": "datum.p == 2"}],
"mark": {"type": "text", "align": "right", "baseline": "alphabetic", "font": "Liberation Sans", "fontWeight": "bold", "fontSize": 55, "color": "#222222"},
"encoding": {
"x": {"field": "x", "type": "quantitative", "scale": {"domain": [3.5, 6.426], "nice": false, "zero": false},
"axis": {"orient": "top", "values": [4, 5, 6], "labels": false, "title": null, "tickSize": -11, "tickWidth": 2, "tickColor": "#222222", "domainColor": "#222222", "domainWidth": 2}},
"y": {"field": "y", "type": "quantitative", "scale": {"domain": [0, 93.7], "nice": false, "zero": false}, "axis": null},
"text": {"field": "t"}
}
}
],
"resolve": {"axis": {"x": "independent", "y": "independent"}}
}
],
"spacing": 27,
"bounds": "flush"
}
],
"spacing": 41,
"bounds": "flush"
}
